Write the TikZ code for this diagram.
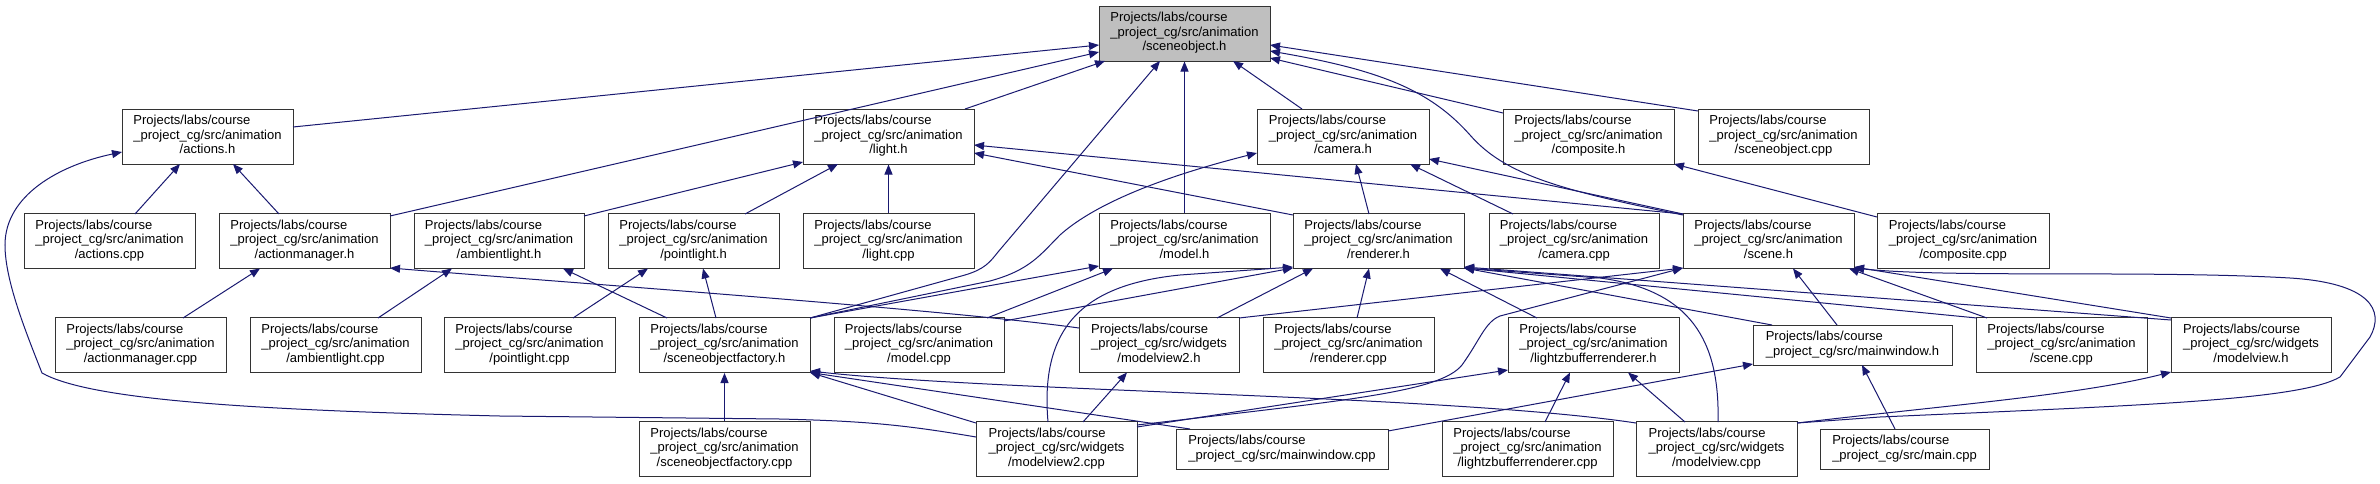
\documentclass[tikz,border=0pt]{standalone}
\usepackage{fontspec}
\setmainfont{Liberation Sans}
\usetikzlibrary{calc,arrows.meta}
\definecolor{navy}{HTML}{191970}
\newlength\dxW
\newcommand\dxTri[3]{\settowidth\dxW{#2}\begin{tabular}{@{}l@{}}#1\\#2\\\makebox[\dxW][c]{#3}\end{tabular}}
\newcommand\dxAnim[1]{\dxTri{Projects/labs/course}{\_project\_cg/src/animation}{#1}}
\newcommand\dxWidg[1]{\dxTri{Projects/labs/course}{\_project\_cg/src/widgets}{#1}}
\newcommand\dxTwo[1]{\begin{tabular}{@{}l@{}}Projects/labs/course\\#1\end{tabular}}
\tikzset{
  box/.style={draw=black!80, line width=1pt, fill=white, minimum width=171pt, minimum height=55pt,
    inner sep=0pt, font=\fontsize{13}{14.5}\selectfont, align=center},
  root/.style={box, fill=black!25},
  edge/.style={draw=navy, line width=1pt, -{Triangle[length=10pt,width=8pt]}},
}
\begin{document}
\begin{tikzpicture}[x=1pt,y=-1pt]
\fill[white] (0,0) rectangle (2380,483);
\useasboundingbox (0,0) rectangle (2380,483);
% row 0
\node[root] (so_h) at (1184.5,33.5) {\dxAnim{/sceneobject.h}};
% row 1
\node[box] (act_h) at (207.5,136.5) {\dxAnim{/actions.h}};
\node[box] (light_h) at (888.5,136.5) {\dxAnim{/light.h}};
\node[box,minimum width=172pt] (cam_h) at (1343,136.5) {\dxAnim{/camera.h}};
\node[box] (comp_h) at (1588.5,136.5) {\dxAnim{/composite.h}};
\node[box] (so_cpp) at (1783.5,136.5) {\dxAnim{/sceneobject.cpp}};
% row 2
\node[box] (act_cpp) at (109.5,241) {\dxAnim{/actions.cpp}};
\node[box] (am_h) at (304.5,241) {\dxAnim{/actionmanager.h}};
\node[box,minimum width=170pt] (amb_h) at (499,241) {\dxAnim{/ambientlight.h}};
\node[box] (pl_h) at (693.5,241) {\dxAnim{/pointlight.h}};
\node[box] (light_cpp) at (888.5,241) {\dxAnim{/light.cpp}};
\node[box] (model_h) at (1184.5,241) {\dxAnim{/model.h}};
\node[box] (rend_h) at (1378.5,241) {\dxAnim{/renderer.h}};
\node[box,minimum width=170pt] (cam_cpp) at (1574,241) {\dxAnim{/camera.cpp}};
\node[box] (scene_h) at (1768.5,241) {\dxAnim{/scene.h}};
\node[box,minimum width=172pt] (comp_cpp) at (1963,241) {\dxAnim{/composite.cpp}};
% row 3
\node[box] (am_cpp) at (140.5,345) {\dxAnim{/actionmanager.cpp}};
\node[box] (amb_cpp) at (335.5,345) {\dxAnim{/ambientlight.cpp}};
\node[box] (pl_cpp) at (529.5,345) {\dxAnim{/pointlight.cpp}};
\node[box] (sof_h) at (724.5,345) {\dxAnim{/sceneobjectfactory.h}};
\node[box,minimum width=170pt] (model_cpp) at (919,345) {\dxAnim{/model.cpp}};
\node[box,minimum width=160pt] (mv2_h) at (1159,345) {\dxWidg{/modelview2.h}};
\node[box] (rend_cpp) at (1348.5,345) {\dxAnim{/renderer.cpp}};
\node[box] (lzb_h) at (1593.5,345) {\dxAnim{/lightzbufferrenderer.h}};
\node[box,minimum width=199pt,minimum height=40pt] (mw_h) at (1852.5,345) {\dxTwo{\_project\_cg/src/mainwindow.h}};
\node[box] (scene_cpp) at (2061.5,345) {\dxAnim{/scene.cpp}};
\node[box,minimum width=160pt] (mv_h) at (2251,345) {\dxWidg{/modelview.h}};
% row 4
\node[box] (sof_cpp) at (724.5,449) {\dxAnim{/sceneobjectfactory.cpp}};
\node[box,minimum width=161pt] (mv2_cpp) at (1056.5,449) {\dxWidg{/modelview2.cpp}};
\node[box,minimum width=212pt,minimum height=40pt] (mw_cpp) at (1282,449) {\dxTwo{\_project\_cg/src/mainwindow.cpp}};
\node[box] (lzb_cpp) at (1527.5,449) {\dxAnim{/lightzbufferrenderer.cpp}};
\node[box,minimum width=161pt] (mv_cpp) at (1716.5,449) {\dxWidg{/modelview.cpp}};
\node[box,minimum width=169pt,minimum height=40pt] (main_cpp) at (1904.5,449) {\dxTwo{\_project\_cg/src/main.cpp}};

% edges into sceneobject.h
\draw[edge] ($(act_h.center)+(85.5,-9.5)$) -- ($(so_h.center)+(-85.5,11.5)$);
\draw[edge] ($(am_h.center)+(85.5,-25)$) -- ($(so_h.center)+(-85.5,18.5)$);
\draw[edge] ($(light_h.center)+(76.5,-27.5)$) -- ($(so_h.center)+(-79.5,27.5)$);
\draw[edge] ($(sof_h.center)+(85.5,-27)$) -- (965,275) .. controls (985,269) and (990,262) .. (998,252) -- ($(so_h.center)+(-24.5,27.5)$);
\draw[edge] (model_h.north) -- (so_h.south);
\draw[edge] ($(cam_h.center)+(-41,-27.5)$) -- ($(so_h.center)+(48.5,27.5)$);
\draw[edge] ($(comp_h.center)+(-85.5,-23.5)$) -- ($(so_h.center)+(85.5,24.5)$);
\draw[edge] ($(so_cpp.center)+(-85.5,-25.5)$) -- ($(so_h.center)+(85.5,11.5)$);
\draw[edge] ($(scene_h.center)+(-85.5,-26)$) .. controls (1560,190) and (1505,175) .. (1470,135) .. controls (1430,90) and (1380,70) .. ($(so_h.center)+(85.5,17.5)$);

% edges into light.h
\draw[edge] ($(amb_h.center)+(85,-25)$) -- ($(light_h.center)+(-85.5,25.5)$);
\draw[edge] ($(pl_h.center)+(51.5,-27)$) -- ($(light_h.center)+(-50.5,27.5)$);
\draw[edge] (light_cpp.north) -- (light_h.south);
\draw[edge] ($(rend_h.center)+(-85.5,-26)$) -- ($(light_h.center)+(85.5,16.5)$);
\draw[edge] ($(scene_h.center)+(-85.5,-27)$) -- ($(light_h.center)+(85.5,8.5)$);

% edges into camera.h
\draw[edge] ($(rend_h.center)+(-9.5,-27)$) -- ($(cam_h.center)+(13,27.5)$);
\draw[edge] ($(cam_cpp.center)+(-61,-27)$) -- ($(cam_h.center)+(67,27.5)$);
\draw[edge] ($(scene_h.center)+(-85.5,-27)$) -- ($(cam_h.center)+(86,22.5)$);
\draw[edge] ($(sof_h.center)+(85.5,-27)$) -- (990,281) .. controls (1030,270) and (1040,255) .. (1060,235) .. controls (1090,208) and (1150,180) .. ($(cam_h.center)+(-86,16.5)$);

% edges into actions.h
\draw[edge] ($(act_cpp.center)+(25.5,-27)$) -- ($(act_h.center)+(-27.5,27.5)$);
\draw[edge] ($(am_h.center)+(-25.5,-27)$) -- ($(act_h.center)+(25.5,27.5)$);
\draw[edge] ($(mv2_cpp.center)+(-80.5,-12)$) .. controls (900,424) and (860,421) .. (780,419) -- (500,416) .. controls (250,410) and (90,400) .. (42,373) .. controls (25,330) and (5,280) .. (5,245) .. controls (5,195) and (60,165) .. ($(act_h.center)+(-85.5,15.5)$);

% edges into actionmanager.h
\draw[edge] ($(am_cpp.center)+(42.5,-27)$) -- ($(am_h.center)+(-44.5,27.5)$);
\draw[edge] ($(mv2_h.center)+(-80,-17)$) .. controls (950,310) and (600,285) .. ($(am_h.center)+(85.5,27)$);

% ambientlight.h, pointlight.h
\draw[edge] ($(amb_cpp.center)+(42.5,-27)$) -- ($(amb_h.center)+(-47,27.5)$);
\draw[edge] ($(sof_h.center)+(-57.5,-27)$) -- ($(amb_h.center)+(64,27.5)$);
\draw[edge] ($(pl_cpp.center)+(43.5,-27)$) -- ($(pl_h.center)+(-45.5,27.5)$);
\draw[edge] ($(sof_h.center)+(-8.5,-27)$) -- ($(pl_h.center)+(9.5,27.5)$);

% sceneobjectfactory.h
\draw[edge] (sof_cpp.north) -- (sof_h.south);
\draw[edge] ($(mv2_cpp.center)+(-80.5,-26)$) -- ($(sof_h.center)+(85.5,27.5)$);
\draw[edge] ($(mw_cpp.center)+(-92,-20)$) -- ($(sof_h.center)+(85.5,27.5)$);
\draw[edge] ($(mv_cpp.center)+(-80.5,-26)$) .. controls (1450,395) and (1000,392) .. ($(sof_h.center)+(85.5,26)$);

% model.h
\draw[edge] ($(sof_h.center)+(85.5,-27)$) -- ($(model_h.center)+(-85.5,25)$);
\draw[edge] ($(model_cpp.center)+(68,-27)$) -- ($(model_h.center)+(-71.5,27.5)$);

% renderer.h
\draw[edge] ($(model_cpp.center)+(85,-24)$) -- ($(rend_h.center)+(-85.5,27)$);
\draw[edge] ($(mv2_cpp.center)+(-8.5,-27)$) .. controls (1040,330) and (1080,285) .. (1180,275) -- ($(rend_h.center)+(-85.5,26)$);
\draw[edge] ($(mv2_h.center)+(58,-27)$) -- ($(rend_h.center)+(-65.5,27.5)$);
\draw[edge] ($(rend_cpp.center)+(8.5,-27)$) -- ($(rend_h.center)+(-9.5,27.5)$);
\draw[edge] ($(lzb_h.center)+(-56.5,-27)$) -- ($(rend_h.center)+(61.5,27.5)$);
\draw[edge] ($(mw_h.center)+(-80.5,-20)$) -- ($(rend_h.center)+(85.5,27)$);
\draw[edge] ($(scene_cpp.center)+(-84.5,-27)$) -- ($(rend_h.center)+(85.5,27)$);
\draw[edge] ($(mv_cpp.center)+(1.5,-27)$) .. controls (1720,340) and (1690,290) .. (1600,278) -- ($(rend_h.center)+(85.5,27)$);
\draw[edge] ($(mv_h.center)+(-80,-25)$) -- ($(rend_h.center)+(85.5,26)$);

% lightzbufferrenderer.h
\draw[edge] ($(lzb_cpp.center)+(17.5,-27)$) -- ($(lzb_h.center)+(-23.5,27.5)$);
\draw[edge] ($(mv_cpp.center)+(-31.5,-27)$) -- ($(lzb_h.center)+(34.5,27.5)$);
\draw[edge] ($(mv2_cpp.center)+(80.5,-22)$) -- ($(lzb_h.center)+(-85.5,25)$);

% mainwindow.h
\draw[edge] ($(mw_cpp.center)+(106,-18)$) -- ($(mw_h.center)+(-99.5,19)$);
\draw[edge] ($(main_cpp.center)+(-9.5,-20)$) -- ($(mw_h.center)+(9.5,20)$);

% scene.h
\draw[edge] ($(mw_h.center)+(-15.5,-20)$) -- ($(scene_h.center)+(24.5,27.5)$);
\draw[edge] ($(scene_cpp.center)+(-74.5,-27)$) -- ($(scene_h.center)+(80.5,27.5)$);
\draw[edge] ($(mv_h.center)+(-80,-27)$) -- ($(scene_h.center)+(85.5,26)$);
\draw[edge] ($(mv_cpp.center)+(80.5,-26)$) -- (1880,417) .. controls (2150,405) and (2300,400) .. (2340,377) -- (2370,337) .. controls (2385,310) and (2370,283) .. (2290,278) .. controls (2150,270) and (1950,278) .. ($(scene_h.center)+(85.5,27)$);
\draw[edge] ($(mv2_h.center)+(80,-27)$) -- ($(scene_h.center)+(-85.5,27)$);
\draw[edge] ($(mv2_cpp.center)+(80.5,-24)$) .. controls (1350,400) and (1440,392) .. (1462,365) .. controls (1480,340) and (1485,322) .. (1500,316) -- ($(scene_h.center)+(-85.5,27)$);

% modelview.h, modelview2.h, composite.h
\draw[edge] ($(mv_cpp.center)+(80.5,-26)$) .. controls (1950,405) and (2080,395) .. ($(mv_h.center)+(-80,27)$);
\draw[edge] ($(mv2_cpp.center)+(26.5,-27)$) -- ($(mv2_h.center)+(-32,27.5)$);
\draw[edge] ($(comp_cpp.center)+(-86,-24)$) -- ($(comp_h.center)+(85.5,27.5)$);
\end{tikzpicture}
\end{document}
